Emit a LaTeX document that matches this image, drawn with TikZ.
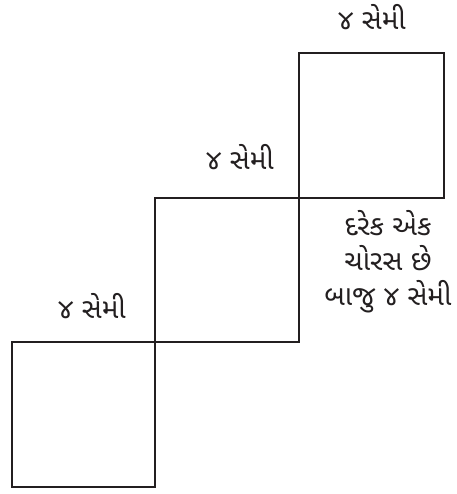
\documentclass[tikz,border=0pt]{standalone}
\usepackage{fontspec}
\newfontfamily\gujfont[Script=Gujarati]{Noto Sans Gujarati UI}
\definecolor{ink}{HTML}{231F20}
\tikzset{
  sq/.style={draw=ink, line width=1.5pt},
  lbl/.style={font=\gujfont\fontsize{21}{26}\selectfont, text=ink, inner sep=0pt},
}
\begin{document}
\begin{tikzpicture}[x=0.75pt,y=-0.75pt]
\useasboundingbox (0,0) rectangle (457,494);
\draw[sq] (12,342) rectangle (155,487);
\draw[sq] (155,198) rectangle (299,342);
\draw[sq] (299,53) rectangle (444,198);
\node[lbl] (t3) at (372,17) {૪ સેમી};
\node[lbl] (t2) at (240,157) {૪ સેમી};
\node[lbl] (t1) at (92,306) {૪ સેમી};
\node[lbl, align=center] (note) at (388,262) {દરેક એક\\ચોરસ છે\\બાજુ ૪ સેમી};
\end{tikzpicture}
\end{document}
